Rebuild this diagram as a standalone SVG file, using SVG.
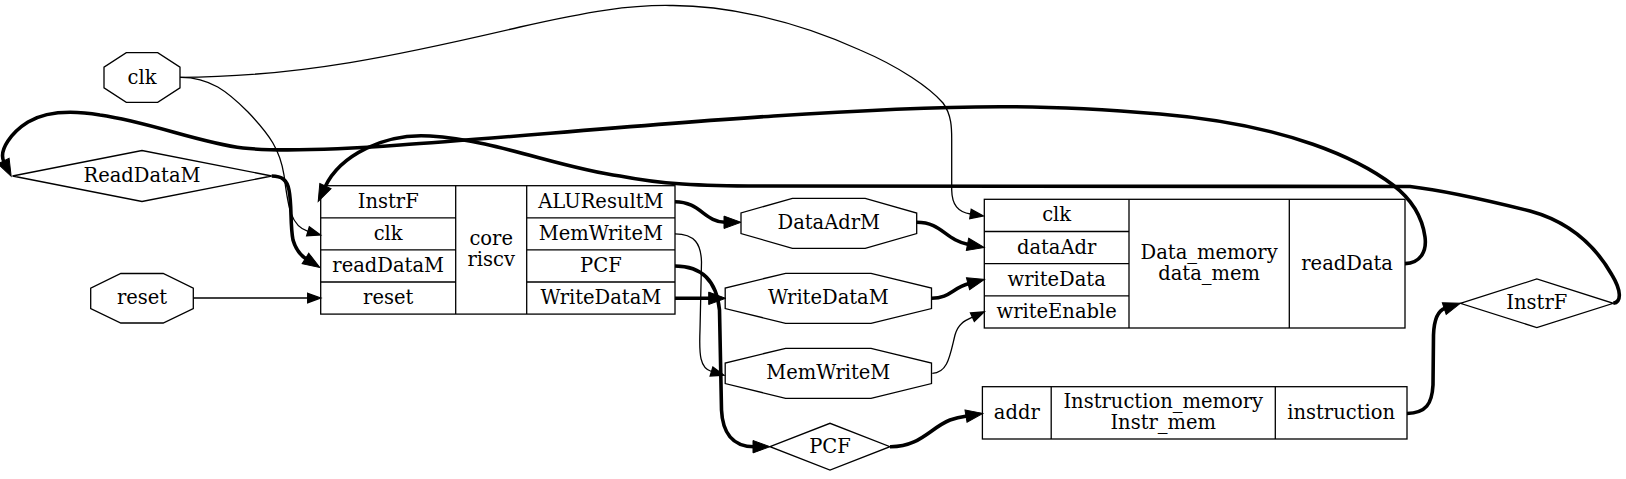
<svg xmlns="http://www.w3.org/2000/svg" width="1626" height="479" viewBox="0 0 1626 479">
<style>
.shape{fill:#fff;stroke:#000;stroke-width:1.3}
.div{stroke:#000;stroke-width:1.3;fill:none}
text{font-family:"DejaVu Serif","Liberation Serif",serif;font-size:19.5px;fill:#000;text-anchor:middle}
.e{fill:none;stroke:#000;stroke-width:1.3;marker-end:url(#a)}
.t{fill:none;stroke:#000;stroke-width:3.6;marker-end:url(#b)}
</style>
<defs>
<marker id="a" markerUnits="userSpaceOnUse" orient="auto" overflow="visible" refX="0" refY="0" markerWidth="14" markerHeight="10">
<path d="M0,-4.7 L13,0 L0,4.7 Z" fill="#000" stroke="#000" stroke-width="1.3"/>
</marker>
<marker id="b" markerUnits="userSpaceOnUse" orient="auto" overflow="visible" refX="0" refY="0" markerWidth="18" markerHeight="14">
<path d="M-1,-6.2 L16,0 L-1,6.2 Z" fill="#000" stroke="#000" stroke-width="1"/>
</marker>
</defs>
<rect x="0" y="0" width="1626" height="479" fill="#fff"/>

<g id="clk">
<polygon class="shape" points="126.3,52.7 157.7,52.7 180,67.2 180,87.8 157.7,102.3 126.3,102.3 104,87.8 104,67.2"/>
<text x="142" y="83.5">clk</text>
</g>
<g id="ReadDataM">
<polygon class="shape" points="12.5,176 142,150.5 271.7,176 142,201.5"/>
<text x="142" y="182">ReadDataM</text>
</g>
<g id="reset">
<polygon class="shape" points="120.8,273.5 163.2,273.5 193.3,288.1 193.3,308.5 163.2,323 120.8,323 90.7,308.5 90.7,288.1"/>
<text x="142" y="304.3">reset</text>
</g>
<g id="core">
<rect class="shape" x="320.7" y="185.7" width="354.3" height="128.4"/>
<path class="div" d="M455.7,185.7 V314.1 M526.7,185.7 V314.1 M320.7,217.8 H455.7 M320.7,249.9 H455.7 M320.7,282 H455.7 M526.7,217.8 H675 M526.7,249.9 H675 M526.7,282 H675"/>
<text x="388.2" y="207.7">InstrF</text>
<text x="388.2" y="239.8">clk</text>
<text x="388.2" y="272">readDataM</text>
<text x="388.2" y="304">reset</text>
<text x="491.2" y="245.4">core</text>
<text x="491.2" y="266.4">riscv</text>
<text x="600.9" y="207.7">ALUResultM</text>
<text x="600.9" y="239.8">MemWriteM</text>
<text x="600.9" y="272">PCF</text>
<text x="600.9" y="304">WriteDataM</text>
</g>
<g id="DataAdrM">
<polygon class="shape" points="792.4,198.3 865.2,198.3 916.7,213 916.7,233.6 865.2,248.3 792.4,248.3 741,233.6 741,213"/>
<text x="828.8" y="229.3">DataAdrM</text>
</g>
<g id="WriteDataM">
<polygon class="shape" points="785.6,273.3 871,273.3 931.5,288 931.5,308.6 871,323.3 785.6,323.3 725.2,308.6 725.2,288"/>
<text x="828.3" y="304.3">WriteDataM</text>
</g>
<g id="MemWriteM">
<polygon class="shape" points="785.6,348.3 871,348.3 931.5,363 931.5,383.6 871,398.3 785.6,398.3 725.2,383.6 725.2,363"/>
<text x="828.3" y="379.3">MemWriteM</text>
</g>
<g id="PCF">
<polygon class="shape" points="770,446.7 830,423.3 890,446.7 830,470"/>
<text x="830" y="452.7">PCF</text>
</g>
<g id="data_mem">
<rect class="shape" x="984.3" y="199.3" width="420.7" height="128.7"/>
<path class="div" d="M1129,199.3 V328 M1289.3,199.3 V328 M984.3,231.5 H1129 M984.3,263.6 H1129 M984.3,295.8 H1129"/>
<text x="1056.65" y="221.4">clk</text>
<text x="1056.65" y="253.5">dataAdr</text>
<text x="1056.65" y="285.7">writeData</text>
<text x="1056.65" y="317.9">writeEnable</text>
<text x="1209.15" y="259.1">Data_memory</text>
<text x="1209.15" y="280.1">data_mem</text>
<text x="1347.15" y="269.6">readData</text>
</g>
<g id="Instr_mem">
<rect class="shape" x="982.4" y="386.7" width="424.6" height="52.3"/>
<path class="div" d="M1051.2,386.7 V439 M1275.3,386.7 V439"/>
<text x="1016.8" y="418.9">addr</text>
<text x="1163.25" y="408.4">Instruction_memory</text>
<text x="1163.25" y="429.4">Instr_mem</text>
<text x="1341.15" y="418.9">instruction</text>
</g>
<g id="InstrF">
<polygon class="shape" points="1460.3,303.3 1536.8,279 1613.3,303.3 1536.8,327.6"/>
<text x="1536.8" y="309.3">InstrF</text>
</g>

<g id="connectors">
<path class="e" d="M180,77.3 C210,77 228,92 248,112 C270,135 280,150 284,175 C288,205 290,226 308,231.3"/>
<path class="e" d="M180,77.3 C300,77 400,55 520,27 C590,11 630,5 670,5.5 C720,5 790,18 860,50 C900,67 930,88 943,103 C952,115 951.7,130 951.7,140 L951.7,190 C952,205 958,212 970.5,214"/>
<path class="e" d="M193.3,298 L307.7,298"/>
<path class="t" d="M271.7,176 C282,176 287,180 289,190 C292,205 290,225 293,240 C296,250 300,255 306.3,259"/>
<path class="t" d="M1613.3,303.3 C1622,302 1621,290 1612,275 C1595,245 1570,222 1530,211 C1490,201 1440,190 1410,186.5 L760,186 C700,186 660,184 620,176 C560,168 495,140 430,136 C385,133 340,155 325,187"/>
<path class="t" d="M675,201.7 C700,201.7 705,222.3 725,222.3"/>
<path class="e" d="M675,233.8 C695,234 701,244 701.5,262 L700,330 C699,355 700,368 711.5,371.5"/>
<path class="t" d="M675,266 C705,266 717,285 719.5,310 L721.5,410 C722.5,432 732,446.7 754,446.7"/>
<path class="t" d="M675,298.3 L709.7,298.3"/>
<path class="t" d="M916.7,222.3 C942,222.3 945,240 968.5,244.5"/>
<path class="t" d="M931.5,298.3 C950,298.3 952,288 969,283.5"/>
<path class="e" d="M932.3,373.3 C948,373 950,355 955,335 C958,324 964,321 972.4,317.2"/>
<path class="t" d="M890,446.7 C920,447 930,428 950,420 C956,418 961,417 967,416"/>
<path class="t" d="M1407,413.5 C1426,413 1432,404 1433,385 L1433.5,335 C1434,320 1437,311 1445.2,308.3"/>
<path class="t" d="M1405,263.6 C1420,263 1427,252 1425,237 C1422,215 1410,198 1393,185 C1360,160 1290,125 1160,114 C1100,109 1050,106.5 1000,106.7 C800,108 550,135 400,145 C330,150 280,152 243,148 C200,143 150,122 100,115 C70,110 45,112 28,122 C12,132 -2,150 4,162"/>
</g>
</svg>
